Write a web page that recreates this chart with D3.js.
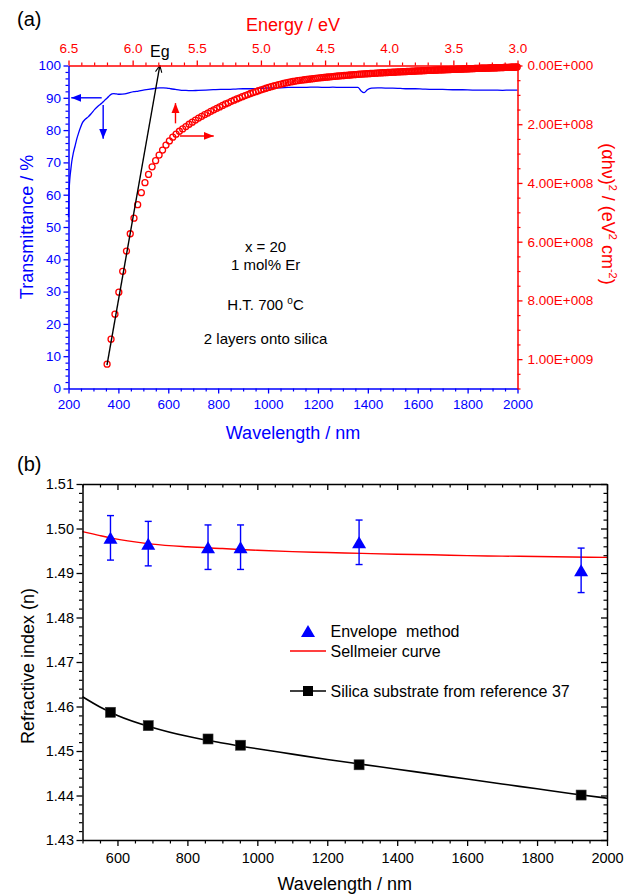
<!DOCTYPE html>
<html>
<head>
<meta charset="utf-8">
<script src="https://cdn.jsdelivr.net/npm/d3@7"></script>
<style>
  html, body { margin: 0; padding: 0; background: #ffffff; }
  svg { display: block; }
</style>
</head>
<body>
<svg id="fig" width="635" height="894"></svg>
<script>
// ---------------- Panel (a): transmittance spectrum ----------------
const transWavelength = [200,201,202,204,206,209,213,219,226,233,240,248,256,265,279,292,305,318,333,345,
  356,366,374,382,392,405,426,445,462,480,500,520,547,565,580,595,610,628,647,665,
  690,720,750,780,810,840,870,900,930,960,990,1020,1050,1080,1110,1140,1170,1200,1230,1260,
  1290,1320,1345,1360,1372,1385,1398,1415,1440,1470,1500,1530,1560,1590,1620,1660,1700,1740,1780,1820,
  1860,1900,1940,1970,2000];
const transPercent = [53.0,57.5,60.5,63.5,65.5,67.6,70.2,72.8,75.0,77.2,79.0,80.8,82.3,83.2,84.1,85.2,86.4,87.4,88.3,89.2,
  90.0,90.8,91.2,91.3,91.2,91.1,91.2,91.6,91.9,92.1,92.4,92.6,92.9,93.1,93.1,93.0,92.8,92.6,92.4,92.3,
  92.2,92.3,92.4,92.5,92.6,92.6,92.7,92.8,92.8,92.9,93.0,93.1,93.1,93.2,93.2,93.2,93.3,93.3,93.2,93.3,
  93.2,93.2,93.2,93.2,92.2,91.6,92.5,93.0,93.1,93.0,93.0,92.9,92.8,92.8,92.7,92.6,92.6,92.5,92.5,92.4,
  92.4,92.4,92.3,92.4,92.4];

// Tauc data: wavelength (nm) of each point and (alpha h nu)^2 in units of 1e8 eV^2 cm^-2
const gapWavelength = [
  200,201,202,203,204,205,206,207,208,209,210,211,212,213,214,215,216,217,218,219,
  220,221,222,223,224,225,226,227,228,229,230,231,232,233,234,235,236,237,238,239,
  240,241,242,243,244,245,246,247,248,249,250,251,252,253,254,255,256,257,258,259,
  260,261,262,263,264,265,266,267,268,269,270,271,272,273,274,275,276,277,278,279,
  280,281,282,283,284,285,286,287,288,289,290,291,292,293,294,295,296,297,298,299,
  300,301,302,303,304,305,306,307,308,309,310,311,312,313,314,315,316,317,318,319,
  320,321,322,323,324,325,326,327,328,329,330,331,332,333,334,335,336,337,338,339,
  340,341,342,343,344,345,346,347,348,349,350,351,352,353,354,355,356,357,358,359,
  360,361,362,363,364,365,366,367,368,369,370,371,372,373,374,375,376,377,378,379,
  380,381,382,383,384,385,386,387,388,389,390,391,392,393,394,395,396,397,398,399,
  400,401,402,403,404,405,406,407,408,409,410,411,412,413];
const gapAhv2 = [
  10.17,9.32,8.47,7.72,7.01,6.32,5.73,5.20,4.74,4.33,3.99,3.71,3.45,3.24,3.05,2.88,2.71,2.57,2.44,
  2.34,2.24,2.16,2.08,2.00,1.93,1.86,1.79,1.73,1.67,1.62,1.56,1.51,1.46,1.41,1.36,1.31,1.27,1.22,1.18,1.14,
  1.10,1.06,1.025,0.989,0.954,0.922,0.891,0.860,0.830,0.802,0.774,0.746,0.721,0.698,0.675,0.653,0.632,0.613,0.594,0.576,
  0.558,0.545,0.531,0.518,0.505,0.495,0.485,0.476,0.466,0.457,0.448,0.438,0.429,0.420,
  0.413,0.406,0.399,0.392,0.385,0.378,0.371,0.364,0.357,
  0.350,0.345,0.340,0.334,0.329,0.324,0.318,0.313,0.308,0.303,0.297,
  0.293,0.289,0.285,0.281,0.277,0.273,0.269,0.265,0.262,0.258,0.254,
  0.250,0.247,0.244,0.241,0.238,0.235,0.232,0.229,0.226,0.223,0.220,0.217,
  0.214,0.211,0.209,0.206,0.204,0.201,0.198,0.196,0.193,0.191,0.188,0.185,0.183,
  0.180,0.178,0.176,0.174,0.172,0.169,0.167,0.165,0.163,0.161,0.159,0.156,0.154,0.152,0.150,
  0.148,0.147,0.145,0.143,0.141,0.140,0.138,0.136,0.135,0.133,0.131,0.129,0.128,0.126,0.124,
  0.122,0.121,0.119,0.117,0.116,0.114,0.112,0.111,0.109,0.107,0.106,0.104,0.103,0.101,0.099,0.098,0.096,
  0.094,0.093,0.092,0.091,0.089,0.088,0.087,0.086,0.085,0.083,0.082,0.081,0.080,0.078,0.077,0.076,0.075,0.074,0.072,
  0.071,0.070,0.069,0.068,0.067,0.065,0.064,0.063,0.062,0.061,0.059,0.058,0.057,0.056,0.055,0.053,0.052,0.051];

// Linear fit of the absorption edge, extrapolated to zero -> Eg
const fitEnergy = [6.200, 5.788];
const fitAhv2 = [10.20, 0];

// Axis ticks, panel (a)
const wlTicksA = [200,400,600,800,1000,1200,1400,1600,1800,2000];
const tTicks = [0,10,20,30,40,50,60,70,80,90,100];
const energyTicks = [6.5,6.0,5.5,5.0,4.5,4.0,3.5,3.0];
const ahvTicks = [0,2,4,6,8,10];
const ahvTickLabels = ["0.00E+000","2.00E+008","4.00E+008","6.00E+008","8.00E+008","1.00E+009"];

// Sample notes
const sampleNotes = ["x = 20", "1 mol% Er", "H.T. 700 \u00B0C", "2 layers onto silica"];

// ---------------- Panel (b): refractive index ----------------
const envWavelength = [580, 688, 859, 952, 1291, 1926];
const envIndex = [1.4979, 1.4966, 1.4958, 1.4958, 1.4969, 1.4906];
const envError = [0.005, 0.005, 0.005, 0.005, 0.005, 0.005];

const sellWavelength = [500,550,580,650,700,800,900,1000,1100,1200,1300,1400,1500,1600,1700,1800,1900,2000];
const sellIndex = [1.4993,1.4984,1.4979,1.4970,1.4965,1.4959,1.4955,1.4951,1.4948,1.4946,1.4944,1.4942,1.4941,1.4939,1.4938,1.4937,1.4936,1.4935];

const silicaWavelength = [580, 688, 859, 952, 1291, 1926];
const silicaIndex = [1.4587, 1.4557, 1.4527, 1.4513, 1.4469, 1.4401];
const silicaCurveWl = [500,550,600,700,800,900,1000,1100,1200,1300,1400,1500,1600,1700,1800,1900,2000];
const silicaCurveN = [1.4622,1.4599,1.4580,1.4553,1.4533,1.4518,1.4505,1.4493,1.4481,1.4470,1.4459,1.4448,1.4437,1.4426,1.4415,1.4404,1.4394];

const wlTicksB = [600,800,1000,1200,1400,1600,1800,2000];
const nTicks = [1.43,1.44,1.45,1.46,1.47,1.48,1.49,1.50,1.51];
const legendLabels = ["Envelope  method", "Sellmeier curve", "Silica substrate from reference 37"];

// ---------------- drawing ----------------
const FONT = '"Liberation Sans", Arial, Helvetica, sans-serif';
const BLUE = "#0000ff", RED = "#ff0000", BLACK = "#000000";
const HC = 1239.84; // eV nm

const svg = d3.select("#fig").attr("font-family", FONT);
const defs = svg.append("defs");

function headMarker(id, color) {
  defs.append("marker").attr("id", id)
    .attr("viewBox", "0 0 10 10").attr("refX", 10).attr("refY", 5)
    .attr("markerWidth", 10).attr("markerHeight", 10)
    .attr("markerUnits", "userSpaceOnUse").attr("orient", "auto")
    .append("path").attr("d", "M0,1 L10,5 L0,9 Z").attr("fill", color);
}
headMarker("headBlue", BLUE);
headMarker("headRed", RED);
defs.append("marker").attr("id", "headOpen")
  .attr("viewBox", "0 0 10 10").attr("refX", 9.5).attr("refY", 5)
  .attr("markerWidth", 8).attr("markerHeight", 8)
  .attr("markerUnits", "userSpaceOnUse").attr("orient", "auto")
  .append("path").attr("d", "M1,1 L9.5,5 L1,9").attr("fill", "none")
  .attr("stroke", BLACK).attr("stroke-width", 1.3);

function minorRange(a, b, step, majors) {
  return d3.range(a, b + step / 2, step).filter(v => !majors.some(m => Math.abs(m - v) < step / 10));
}

function axis(g, axisFn, scale, opt) {
  const major = axisFn(scale).tickValues(opt.ticks).tickSize(opt.size).tickSizeOuter(0)
    .tickPadding(opt.pad || 3)
    .tickFormat(opt.labels ? opt.format : "");
  g.call(major);
  g.attr("font-family", FONT).attr("font-size", opt.fontSize || 13);
  g.select(".domain").attr("stroke", opt.color).attr("stroke-width", 1.5);
  g.selectAll(".tick line").attr("stroke", opt.color).attr("stroke-width", 1.3);
  g.selectAll(".tick text").attr("fill", opt.color);
  if (opt.minor) {
    const mg = g.append("g");
    mg.call(axisFn(scale).tickValues(opt.minor).tickSize(opt.minorSize).tickSizeOuter(0).tickFormat(""));
    mg.select(".domain").remove();
    mg.selectAll(".tick line").attr("stroke", opt.color).attr("stroke-width", 1.2);
  }
}

// ======== Panel (a) ========
const A = {left: 68.5, right: 517.5, top: 65.5, bottom: 388.5};
const xWl = d3.scaleLinear().domain([200, 2000]).range([A.left, A.right]);
const yT = d3.scaleLinear().domain([0, 100]).range([A.bottom, A.top]);
const xE = d3.scaleLinear().domain([6.5, 3.0]).range([A.left, A.right]);
const yAhv = d3.scaleLinear().domain([0, 11]).range([A.top, A.bottom]);

const pa = svg.append("g");

// transmittance curve
pa.append("path")
  .datum(d3.zip(transWavelength, transPercent))
  .attr("fill", "none").attr("stroke", BLUE).attr("stroke-width", 1.3)
  .attr("stroke-linejoin", "round")
  .attr("d", d3.line().x(d => xWl(d[0])).y(d => yT(d[1])).curve(d3.curveMonotoneX));

// Tauc points
pa.append("g").selectAll("circle")
  .data(d3.zip(gapWavelength, gapAhv2))
  .join("circle")
  .attr("cx", d => xE(HC / d[0])).attr("cy", d => yAhv(d[1]))
  .attr("r", 3).attr("fill", "none").attr("stroke", RED).attr("stroke-width", 1.3);

// fit line to Eg
pa.append("line")
  .attr("x1", xE(fitEnergy[0])).attr("y1", yAhv(fitAhv2[0]))
  .attr("x2", xE(fitEnergy[1])).attr("y2", yAhv(fitAhv2[1]))
  .attr("stroke", BLACK).attr("stroke-width", 1.4)
  .attr("marker-end", "url(#headOpen)");
pa.append("text").attr("x", xE(fitEnergy[1])).attr("y", A.top - 8.5)
  .attr("text-anchor", "middle").attr("font-size", 16).attr("fill", BLACK).text("Eg");

// direction arrows
function arrow(x1, y1, x2, y2, color, marker) {
  pa.append("line").attr("x1", x1).attr("y1", y1).attr("x2", x2).attr("y2", y2)
    .attr("stroke", color).attr("stroke-width", 1.4).attr("marker-end", `url(#${marker})`);
}
arrow(xWl(333), yT(90), xWl(211), yT(90), BLUE, "headBlue");
arrow(xWl(339), yT(87.8), xWl(339), yT(77.3), BLUE, "headBlue");
arrow(xE(5.666), yAhv(1.97), xE(5.666), yAhv(1.28), RED, "headRed");
arrow(xE(5.631), yAhv(2.40), xE(5.368), yAhv(2.40), RED, "headRed");

// sample notes
const noteX = xWl(990);
const noteY = [yT(42.3), yT(36.6), yT(24.3), yT(13.8)];
sampleNotes.forEach((s, i) => {
  const t = pa.append("text").attr("x", noteX).attr("y", noteY[i])
    .attr("text-anchor", "middle").attr("font-size", 15).attr("fill", BLACK);
  if (s.includes("\u00B0")) {
    const [pre, post] = s.split("\u00B0");
    t.append("tspan").text(pre);
    t.append("tspan").attr("font-size", 10).attr("dy", -6).text("o");
    t.append("tspan").attr("dy", 6).text(post);
  } else t.text(s);
});

// axes (a)
axis(pa.append("g").attr("transform", `translate(0,${A.bottom})`), d3.axisBottom, xWl,
  {ticks: wlTicksA, minor: minorRange(200, 2000, 50, wlTicksA), size: 5, minorSize: 3,
   labels: true, format: d3.format("d"), color: BLUE, pad: 6, fontSize: 13.5});
axis(pa.append("g").attr("transform", `translate(0,${A.top})`), d3.axisTop, xE,
  {ticks: energyTicks, minor: minorRange(3.0, 6.5, 0.1, energyTicks), size: 5, minorSize: 3,
   labels: true, format: d3.format(".1f"), color: RED, pad: 7.5, fontSize: 13.5});
axis(pa.append("g").attr("transform", `translate(${A.right},0)`), d3.axisRight, yAhv,
  {ticks: ahvTicks, minor: minorRange(0, 11, 0.5, ahvTicks), size: 5, minorSize: 3,
   labels: true, format: (d, i) => ahvTickLabels[i], color: RED, pad: 5, fontSize: 13.5});
axis(pa.append("g").attr("transform", `translate(${A.left},0)`), d3.axisLeft, yT,
  {ticks: tTicks, minor: minorRange(0, 100, 2, tTicks), size: 5, minorSize: 3,
   labels: true, format: d3.format("d"), color: BLUE, pad: 2.5, fontSize: 13.5});

// titles (a)
svg.append("text").attr("x", 17).attr("y", 25.5).attr("font-size", 20).attr("fill", BLACK).text("(a)");
svg.append("text").attr("x", (A.left + A.right) / 2).attr("y", 31)
  .attr("text-anchor", "middle").attr("font-size", 18).attr("fill", RED).text("Energy / eV");
svg.append("text").attr("x", (A.left + A.right) / 2).attr("y", 439)
  .attr("text-anchor", "middle").attr("font-size", 18).attr("fill", BLUE).text("Wavelength / nm");
svg.append("text").attr("transform", `translate(33,${(A.top + A.bottom) / 2}) rotate(-90)`)
  .attr("text-anchor", "middle").attr("font-size", 18).attr("fill", BLUE).text("Transmittance / %");
{
  const t = svg.append("text").attr("transform", `translate(602,214) rotate(90)`)
    .attr("text-anchor", "middle").attr("font-size", 18).attr("fill", RED);
  const parts = [["(\u03B1h\u03BD)", 0], ["2", 1], [" / (eV", 0], ["2", 1], [" cm", 0], ["-2", 1], [")", 0]];
  let raised = false;
  parts.forEach(([s, sup]) => {
    const ts = t.append("tspan").text(s);
    if (sup) { ts.attr("font-size", 11).attr("dy", raised ? 0 : -7); raised = true; }
    else { if (raised) ts.attr("dy", 7); raised = false; }
  });
}

// ======== Panel (b) ========
const B = {left: 82.5, right: 607, top: 484, bottom: 840};
const xB = d3.scaleLinear().domain([500, 2000]).range([B.left, B.right]);
const yB = d3.scaleLinear().domain([1.43, 1.51]).range([B.bottom, B.top]);
const pb = svg.append("g");

const curve = d3.line().x(d => xB(d[0])).y(d => yB(d[1])).curve(d3.curveMonotoneX);

pb.append("path").datum(d3.zip(sellWavelength, sellIndex))
  .attr("fill", "none").attr("stroke", RED).attr("stroke-width", 1.4).attr("d", curve);
pb.append("path").datum(d3.zip(silicaCurveWl, silicaCurveN))
  .attr("fill", "none").attr("stroke", BLACK).attr("stroke-width", 1.6).attr("d", curve);

// silica squares
pb.append("g").selectAll("rect").data(d3.zip(silicaWavelength, silicaIndex)).join("rect")
  .attr("x", d => xB(d[0]) - 5).attr("y", d => yB(d[1]) - 5)
  .attr("width", 10).attr("height", 10).attr("fill", BLACK)
  .attr("stroke", "#333").attr("stroke-width", 0.6);

// envelope points with error bars
const tri = "M0,-6 L7,6 L-7,6 Z";
const env = pb.append("g").selectAll("g").data(d3.range(envWavelength.length)).join("g");
env.append("line")
  .attr("x1", i => xB(envWavelength[i])).attr("x2", i => xB(envWavelength[i]))
  .attr("y1", i => yB(envIndex[i] + envError[i])).attr("y2", i => yB(envIndex[i] - envError[i]))
  .attr("stroke", BLUE).attr("stroke-width", 1.4);
[1, -1].forEach(s => {
  env.append("line")
    .attr("x1", i => xB(envWavelength[i]) - 3.5).attr("x2", i => xB(envWavelength[i]) + 3.5)
    .attr("y1", i => yB(envIndex[i] + s * envError[i])).attr("y2", i => yB(envIndex[i] + s * envError[i]))
    .attr("stroke", BLUE).attr("stroke-width", 1.4);
});
env.append("path").attr("d", tri)
  .attr("transform", i => `translate(${xB(envWavelength[i])},${yB(envIndex[i])})`)
  .attr("fill", BLUE);

// axes (b)
axis(pb.append("g").attr("transform", `translate(0,${B.bottom})`), d3.axisBottom, xB,
  {ticks: wlTicksB, minor: minorRange(500, 2000, 50, wlTicksB), size: 6, minorSize: 3.5,
   labels: true, format: d3.format("d"), color: BLACK, pad: 7, fontSize: 14.5});
axis(pb.append("g").attr("transform", `translate(${B.left},0)`), d3.axisLeft, yB,
  {ticks: nTicks, minor: minorRange(1.43, 1.51, 0.002, nTicks), size: 6, minorSize: 3.5,
   labels: true, format: d3.format(".2f"), color: BLACK, pad: 2.5, fontSize: 14.5});
axis(pb.append("g").attr("transform", `translate(0,${B.top})`), d3.axisTop, xB,
  {ticks: wlTicksB, minor: minorRange(500, 2000, 50, wlTicksB), size: -6, minorSize: -3.5,
   labels: false, color: BLACK});
axis(pb.append("g").attr("transform", `translate(${B.right},0)`), d3.axisRight, yB,
  {ticks: nTicks, minor: minorRange(1.43, 1.51, 0.002, nTicks), size: -6, minorSize: -3.5,
   labels: false, color: BLACK});

// legend
const lg = pb.append("g").attr("font-size", 16).attr("fill", BLACK);
const lgX = 290, lgText = 330.5;
lg.append("path").attr("d", tri).attr("transform", `translate(${lgX + 18},631)`).attr("fill", BLUE);
lg.append("text").attr("x", lgText).attr("y", 637).attr("xml:space", "preserve")
  .style("white-space", "pre").text(legendLabels[0]);
lg.append("line").attr("x1", lgX).attr("x2", lgX + 36).attr("y1", 651).attr("y2", 651)
  .attr("stroke", RED).attr("stroke-width", 1.4);
lg.append("text").attr("x", lgText).attr("y", 656.5).text(legendLabels[1]);
lg.append("line").attr("x1", lgX).attr("x2", lgX + 36).attr("y1", 691).attr("y2", 691)
  .attr("stroke", BLACK).attr("stroke-width", 1.4);
lg.append("rect").attr("x", lgX + 13).attr("y", 686).attr("width", 10).attr("height", 10).attr("fill", BLACK);
lg.append("text").attr("x", lgText).attr("y", 697).text(legendLabels[2]);

// titles (b)
svg.append("text").attr("x", 17).attr("y", 471).attr("font-size", 20).attr("fill", BLACK).text("(b)");
svg.append("text").attr("x", (B.left + B.right) / 2).attr("y", 890)
  .attr("text-anchor", "middle").attr("font-size", 18).attr("fill", BLACK).text("Wavelength / nm");
svg.append("text").attr("transform", `translate(33.5,${(B.top + B.bottom) / 2 + 4}) rotate(-90)`)
  .attr("text-anchor", "middle").attr("font-size", 18).attr("fill", BLACK).text("Refractive index (n)");
</script>
</body>
</html>
